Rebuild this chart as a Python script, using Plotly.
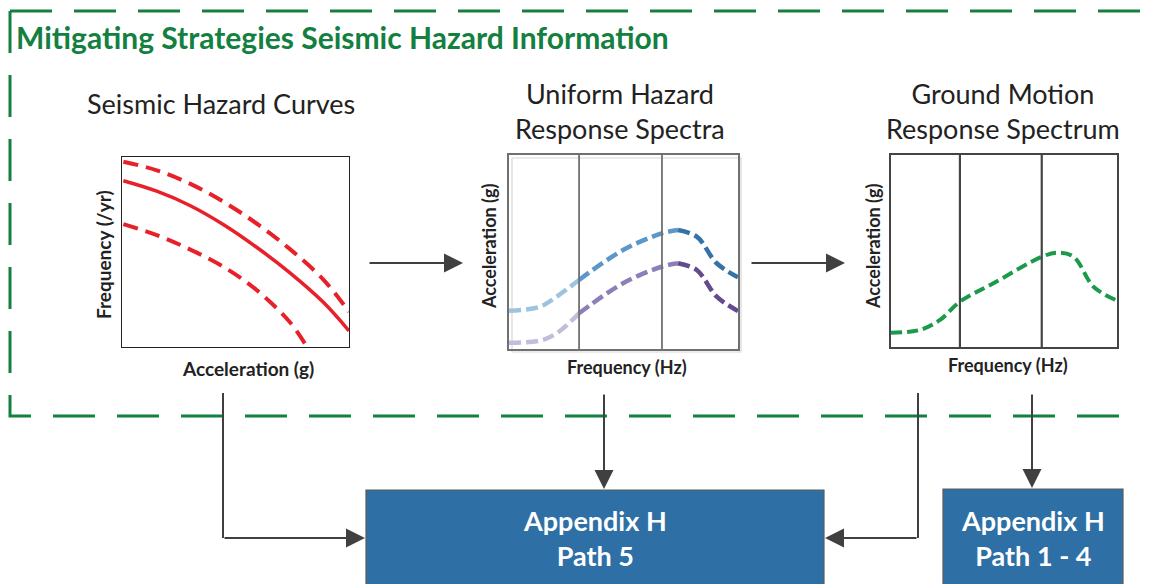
import plotly.graph_objects as go

W, H = 1153, 584
OFF = 8  # page body margin used by the html page
FW, FH = W - OFF, H - OFF

# ---------------- data ----------------
# Chart 1: Seismic hazard curves (x: acceleration, y: annual frequency), arbitrary 0-10 units
hz_x_mean = [0.06, 1.53, 2.99, 4.46, 5.93, 7.40, 8.87, 10.0]
hz_y_mean = [8.75, 8.20, 7.45, 6.45, 5.25, 3.90, 2.35, 0.85]
hz_x_upper = [0.06, 1.53, 2.99, 4.46, 5.93, 7.40, 8.87, 10.0]
hz_y_upper = [9.75, 9.30, 8.60, 7.65, 6.50, 5.15, 3.55, 1.85]
hz_x_lower = [0.06, 1.53, 2.99, 4.46, 5.93, 7.40, 8.10]
hz_y_lower = [6.47, 5.89, 5.14, 4.23, 3.00, 1.30, 0.10]

# Chart 2: Uniform hazard response spectra (x: frequency, y: acceleration)
uh_x = [0.0, 1.35, 2.08, 3.06, 4.98, 6.67, 7.38, 8.2, 9.07, 10.0]
uh_y_upper = [1.97, 2.18, 2.7, 3.56, 5.1, 5.96, 6.13, 5.79, 4.42, 3.7]
uh_y_lower = [0.32, 0.43, 0.81, 1.84, 3.39, 4.24, 4.42, 4.07, 2.7, 1.96]
uh_grid = [3.06, 6.68]

# Chart 3: Ground motion response spectrum
gm_x = [0.0, 1.28, 2.17, 3.05, 4.53, 6.68, 7.34, 8.08, 8.96, 10.0]
gm_y = [0.74, 0.89, 1.41, 2.36, 3.32, 4.7, 4.91, 4.7, 3.14, 2.42]
gm_grid = [3.05, 6.67]

title_text = "Mitigating Strategies Seismic Hazard Information"
chart_titles = ["Seismic Hazard Curves", "Uniform Hazard<br>Response Spectra",
                "Ground Motion<br>Response Spectrum"]
box_labels = ["Appendix H<br>Path 5", "Appendix H<br>Path 1 - 4"]

FONT = "Lato"
GREEN = "#13803f"
ARROW = "#404040"
BLUE_BOX = "#2e6fa5"

fig = go.Figure()

# subplot boxes in page-pixel coordinates (left, top, right, bottom)
boxes = {
    2: (122, 157, 349, 347),
    3: (509, 155, 738, 349),
    4: (891, 155, 1117, 347),
}
box_style = {2: ("#222222", 1.3), 3: ("#707070", 1.8), 4: ("#444444", 2.2)}

def dom(b):
    l, t, r, bt = b
    return [(l - OFF) / FW, (r - OFF) / FW], [1 - (bt - OFF) / FH, 1 - (t - OFF) / FH]

layout_axes = {}
layout_axes["xaxis"] = dict(range=[OFF, W], domain=[0, 1], visible=False, fixedrange=True)
layout_axes["yaxis"] = dict(range=[H, OFF], domain=[0, 1], visible=False, fixedrange=True)
for k, b in boxes.items():
    dx, dy = dom(b)
    col, lw = box_style[k]
    common = dict(range=[0, 10], showgrid=False, zeroline=False, showticklabels=False,
                  ticks="", showline=True, mirror=True, linecolor=col, linewidth=lw,
                  fixedrange=True)
    layout_axes[f"xaxis{k}"] = dict(domain=dx, anchor=f"y{k}", **common)
    layout_axes[f"yaxis{k}"] = dict(domain=dy, anchor=f"x{k}", **common)

RED = "#e8202a"
fig.add_trace(go.Scatter(x=hz_x_upper, y=hz_y_upper, mode="lines", xaxis="x2", yaxis="y2",
                         line=dict(color=RED, width=4, dash="15px,8px", shape="spline"),
                         name="Upper fractile"))
fig.add_trace(go.Scatter(x=hz_x_mean, y=hz_y_mean, mode="lines", xaxis="x2", yaxis="y2",
                         line=dict(color=RED, width=3.5, shape="spline"), name="Mean"))
fig.add_trace(go.Scatter(x=hz_x_lower, y=hz_y_lower, mode="lines", xaxis="x2", yaxis="y2",
                         line=dict(color=RED, width=4, dash="15px,8px", shape="spline"),
                         name="Lower fractile"))

# chart 2: colour gradient approximated by overlapping segments
seg_idx = [(0, 4), (3, 7), (6, 10)]
blue_cols = ["#9cc3e0", "#5d97c8", "#3472a8"]
purple_cols = ["#c5bcdb", "#8f7fb8", "#624c8e"]
for (a, b), c in zip(seg_idx, blue_cols):
    fig.add_trace(go.Scatter(x=uh_x[a:b], y=uh_y_upper[a:b], mode="lines", xaxis="x3", yaxis="y3",
                             line=dict(color=c, width=4.5, dash="12px,5px", shape="spline"),
                             showlegend=False))
for (a, b), c in zip(seg_idx, purple_cols):
    fig.add_trace(go.Scatter(x=uh_x[a:b], y=uh_y_lower[a:b], mode="lines", xaxis="x3", yaxis="y3",
                             line=dict(color=c, width=4.5, dash="12px,5px", shape="spline"),
                             showlegend=False))

fig.add_trace(go.Scatter(x=gm_x, y=gm_y, mode="lines", xaxis="x4", yaxis="y4",
                         line=dict(color="#1b9a4b", width=4, dash="11px,5px", shape="spline"),
                         showlegend=False))

shapes = []
for gx in uh_grid:
    shapes.append(dict(type="line", xref="x3", yref="y3 domain", x0=gx, x1=gx, y0=0, y1=1,
                       line=dict(color="#707070", width=1.8)))
for gx in gm_grid:
    shapes.append(dict(type="line", xref="x4", yref="y4 domain", x0=gx, x1=gx, y0=0, y1=1,
                       line=dict(color="#444444", width=2.2)))
# faint double frame on chart 2
shapes.append(dict(type="rect", xref="x", yref="y", x0=512, y0=158, x1=741, y1=352,
                   line=dict(color="#d8d8d8", width=1.2), layer="below"))

# green dashed frame
shapes.append(dict(type="path", xref="x", yref="y",
                   path="M 10,11 L 1153,11 M 10,11 L 10,416 L 1140,416",
                   line=dict(color=GREEN, width=3, dash="42px,22px")))

# connector lines
def seg(x0, y0, x1, y1):
    shapes.append(dict(type="line", xref="x", yref="y", x0=x0, y0=y0, x1=x1, y1=y1,
                       line=dict(color=ARROW, width=2)))
seg(223, 393, 223, 538)
seg(918, 393, 918, 538)

# blue boxes
shapes.append(dict(type="rect", xref="x", yref="y", x0=366, y0=490, x1=824, y1=600,
                   fillcolor=BLUE_BOX, line=dict(color="#5a5a5a", width=1.2)))
shapes.append(dict(type="rect", xref="x", yref="y", x0=943, y0=489, x1=1123, y1=600,
                   fillcolor=BLUE_BOX, line=dict(color="#5a5a5a", width=1.2)))

annotations = []

def arrow(x0, y0, x1, y1):
    annotations.append(dict(x=x1, y=y1, ax=x0, ay=y0, xref="x", yref="y", axref="x", ayref="y",
                            text="", showarrow=True, arrowhead=2, arrowsize=1.9,
                            arrowwidth=2, arrowcolor=ARROW, standoff=0))

arrow(368, 263, 463, 263)
arrow(750, 263, 845, 263)
arrow(223, 538, 365, 538)
arrow(604, 393, 604, 489)
arrow(918, 538, 825, 538)
arrow(1032, 393, 1032, 488)

def text(x, y, s, size, color="#222222", bold=False, angle=0):
    annotations.append(dict(x=x, y=y, xref="x", yref="y", text=s, showarrow=False,
                            textangle=angle, xanchor="center", yanchor="middle",
                            font=dict(family=FONT, size=size, color=color,
                                      weight="bold" if bold else "normal")))

annotations.append(dict(x=14, y=37, xref="x", yref="y", text=title_text, showarrow=False,
                        xanchor="left", yanchor="middle",
                        font=dict(family=FONT, size=30, color=GREEN, weight="bold")))

text(221, 103, chart_titles[0], 27)
text(620, 111, chart_titles[1], 27)
text(1003, 111, chart_titles[2], 27)

text(103, 255, "Frequency (/yr)", 19, bold=True, angle=-90)
text(248, 368, "Acceleration (g)", 19, bold=True)
text(489, 247, "Acceleration (g)", 18, bold=True, angle=-90)
text(627, 367, "Frequency (Hz)", 18, bold=True)
text(873, 247, "Acceleration (g)", 18, bold=True, angle=-90)
text(1008, 365, "Frequency (Hz)", 18, bold=True)

text(595, 538, box_labels[0], 27, color="white", bold=True)
text(1033, 538, box_labels[1], 27, color="white", bold=True)

fig.update_layout(width=FW, height=FH, margin=dict(l=0, r=0, t=0, b=0),
                  paper_bgcolor="white", plot_bgcolor="rgba(0,0,0,0)",
                  showlegend=False, shapes=shapes, annotations=annotations,
                  **layout_axes)

fig.write_html("out.html")
